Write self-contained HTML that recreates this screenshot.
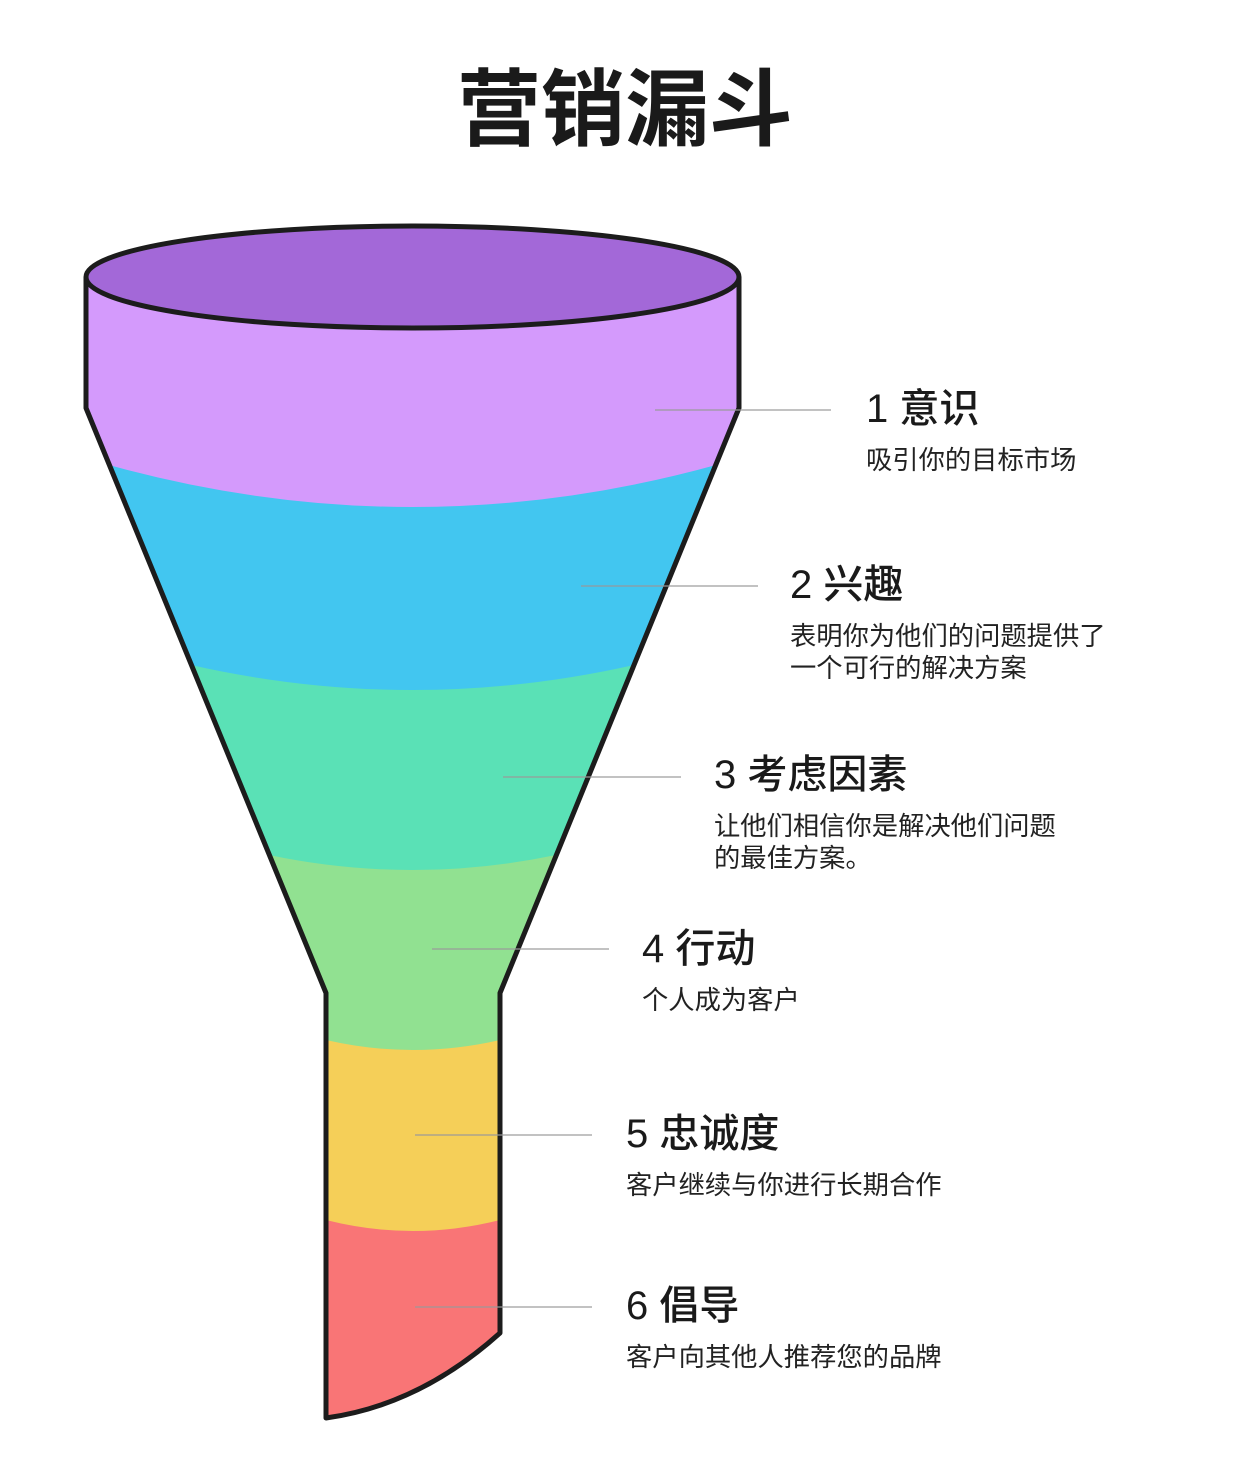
<!DOCTYPE html>
<html><head><meta charset="utf-8"><style>
html,body{margin:0;padding:0;background:#fff;}
svg{display:block;}
text{font-family:"Liberation Sans","Noto Sans CJK SC",sans-serif;fill:#1a1a1a;}
.h{font-size:40px;font-weight:500;}
.d{font-size:26.3px;fill:#222;}
</style></head><body>
<svg width="1248" height="1475" viewBox="0 0 1248 1475" xmlns="http://www.w3.org/2000/svg">
<defs>
<clipPath id="body">
<path d="M86,277 L86,408 L326,993 L326,1418 Q420,1405 500,1333 L500,993 L739,408 L739,277 Z"/>
</clipPath>
</defs>
<text x="625" y="110" text-anchor="middle" dominant-baseline="central" style="font-size:84px;font-weight:bold;">营销漏斗</text>
<g clip-path="url(#body)">
<rect x="0" y="200" width="1248" height="1275" fill="#f97576"/>
<path d="M0,200 H1248 V1220 H500 Q413,1242 326,1220 H0 Z" fill="#f5cf58"/>
<path d="M0,200 H1248 V1040 H500 Q413,1060 326,1040 H0 Z" fill="#91e191"/>
<path d="M0,200 H1248 V855 H556 Q412,885 269,855 H0 Z" fill="#5ae1b6"/>
<path d="M0,200 H1248 V665 H634 Q412,715 191,665 H0 Z" fill="#42c6f0"/>
<path d="M0,200 H1248 V465 H716 Q412,549 109,465 H0 Z" fill="#d49afc"/>
</g>
<path d="M86,277 L86,408 L326,993 L326,1418 Q420,1405 500,1333 L500,993 L739,408 L739,277" fill="none" stroke="#1c1c1c" stroke-width="5" stroke-linejoin="round"/>
<ellipse cx="412.5" cy="277" rx="326.5" ry="51" fill="#a368d8" stroke="#1c1c1c" stroke-width="5"/>
<g stroke="#999" stroke-width="1.5" opacity="0.8">
<line x1="655" y1="410" x2="831" y2="410"/>
<line x1="581" y1="586" x2="758" y2="586"/>
<line x1="503" y1="777" x2="681" y2="777"/>
<line x1="432" y1="949" x2="609" y2="949"/>
<line x1="415" y1="1135" x2="592" y2="1135"/>
<line x1="415" y1="1307" x2="592" y2="1307"/>
</g>
<g dominant-baseline="central">
<text class="h" x="866" y="409">1 意识</text>
<text class="d" x="866" y="460">吸引你的目标市场</text>
<text class="h" x="790" y="585">2 兴趣</text>
<text class="d" x="790" y="636">表明你为他们的问题提供了</text>
<text class="d" x="790" y="668">一个可行的解决方案</text>
<text class="h" x="714" y="775">3 考虑因素</text>
<text class="d" x="714" y="826">让他们相信你是解决他们问题</text>
<text class="d" x="714" y="858">的最佳方案。</text>
<text class="h" x="642" y="949">4 行动</text>
<text class="d" x="642" y="1000">个人成为客户</text>
<text class="h" x="626" y="1134">5 忠诚度</text>
<text class="d" x="626" y="1185">客户继续与你进行长期合作</text>
<text class="h" x="626" y="1306">6 倡导</text>
<text class="d" x="626" y="1357">客户向其他人推荐您的品牌</text>
</g>
</svg>
</body></html>
